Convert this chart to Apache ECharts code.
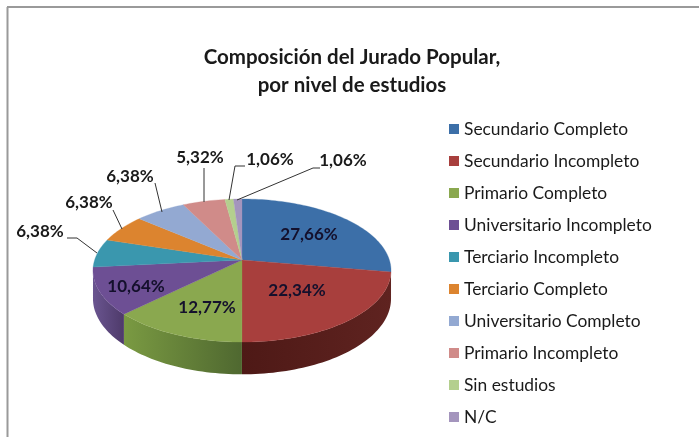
<!DOCTYPE html>
<html><head><meta charset="utf-8">
<style>html,body{margin:0;padding:0;background:#fff}#c{width:699px;height:437px}</style>
<script src="https://cdn.jsdelivr.net/npm/echarts@6/dist/echarts.min.js"></script>
</head><body><div id="c"></div>
<script>
const categories = ['Secundario Completo','Secundario Incompleto','Primario Completo','Universitario Incompleto','Terciario Incompleto','Terciario Completo','Universitario Completo','Primario Incompleto','Sin estudios','N/C'];
const values = [27.66,22.34,12.77,10.64,6.38,6.38,6.38,5.32,1.06,1.06];
const colors = ['#3c6fa8','#a83f3d','#8aa84f','#6d4f94','#3a97ae','#dc842f','#93a9d2','#d08b89','#b4cf8e','#a495bd'];
const wallColors = [['#2c5078','#2c5078'],['#4e1916','#5f2320'],['#7a9a42','#4f6830'],['#6a5590','#4e3a6a'],null,null,null,null,null,null];
const labelPos = [[309,235],[297,291],[207,308],[136,287],[40,232],[89,203],[130,177],[200,158],[270,160],[343,161]];
const leaders = [null,null,null,null,
  [[67,238],[77,238],[97,253]],
  [[113,210],[122,229]],
  [[155,183],[162,212]],
  [[204,168],[204,202]],
  [[245,166],[235,166],[229,200]],
  [[320,168],[313,168],[237,200]]];

// Perspective disc: pie centre, horizontal / vertical radius, perspective, wall height
const CX=242, CY=260, RX=147.4, RY=70, K=0.147, DEPTH=27.5;
const FRONT_START=98.5, FRONT_END=261.5;
function project(deg){
  const a=deg*Math.PI/180, u=Math.sin(a), v=Math.cos(a), s=1/(1+K*v);
  return {x:CX+RX*u*s, y:CY-RY*v*s, s};
}
function arc(a0,a1){
  const pts=[], n=Math.max(2,Math.ceil(Math.abs(a1-a0)/1.5));
  for(let i=0;i<=n;i++) pts.push(project(a0+(a1-a0)*i/n));
  return pts;
}
const total = values.reduce((a,b)=>a+b,0);
const fmt = v => v.toFixed(2).replace('.',',')+'%';

const FONT='Lato';
let cum=0;
const series = categories.map((name,i)=>{
  const start=cum/total*360; cum+=values[i]; const end=cum/total*360;
  return {
    type:'custom', name, coordinateSystem:'none', animation:false, silent:true,
    itemStyle:{color:colors[i]},
    data:[[values[i]]],
    renderItem:function(){
      const children=[];
      const w0=Math.max(start,FRONT_START), w1=Math.min(end,FRONT_END);
      if(w1>w0 && wallColors[i]){
        const top=arc(w0,w1);
        const bot=top.map(p=>[p.x,p.y+DEPTH*p.s]).reverse();
        children.push({type:'polygon',shape:{points:top.map(p=>[p.x,p.y]).concat(bot)},
          style:{fill:new echarts.graphic.LinearGradient(0,0,1,0,[{offset:0,color:wallColors[i][0]},{offset:1,color:wallColors[i][1]}])}});
      }
      const rim=arc(start,end).map(p=>[p.x,p.y]);
      children.push({type:'polygon',shape:{points:[[CX,CY]].concat(rim)},style:{fill:colors[i],stroke:colors[i],lineWidth:0.3}});
      if(leaders[i]) children.push({type:'polyline',z2:8,shape:{points:leaders[i]},style:{fill:null,stroke:'#333',lineWidth:1}});
      children.push({type:'text',z2:10,x:labelPos[i][0],y:labelPos[i][1],
        style:{text:fmt(values[i]),fill:i<4?'#14102c':'#1a1a1a',font:'bold 17px '+FONT,textAlign:'center',textVerticalAlign:'middle'}});
      return {type:'group',children};
    }
  };
});

const chart=echarts.init(document.getElementById('c'),null,{renderer:'canvas'});
chart.setOption({
  animation:false,
  backgroundColor:'#ffffff',
  title:{text:'Composición del Jurado Popular,\npor nivel de estudios',left:347,top:38,textAlign:'center',
    textStyle:{fontFamily:FONT,fontSize:20.5,fontWeight:'bold',color:'#1a1a1a',lineHeight:28}},
  legend:{data:categories,orient:'vertical',left:444,top:115,itemWidth:10,itemHeight:10,itemGap:14,icon:'rect',selectedMode:false,
    textStyle:{fontFamily:FONT,fontSize:17.4,color:'#1a1a1a',lineHeight:18,padding:[0,0,0,0]}},
  graphic:[
    {type:'line',shape:{x1:7,y1:7,x2:699,y2:7},style:{stroke:'#9a9a9a',lineWidth:2}},
    {type:'line',shape:{x1:7.5,y1:7,x2:7.5,y2:437},style:{stroke:'#9a9a9a',lineWidth:2}}
  ],
  series
});
</script></body></html>
